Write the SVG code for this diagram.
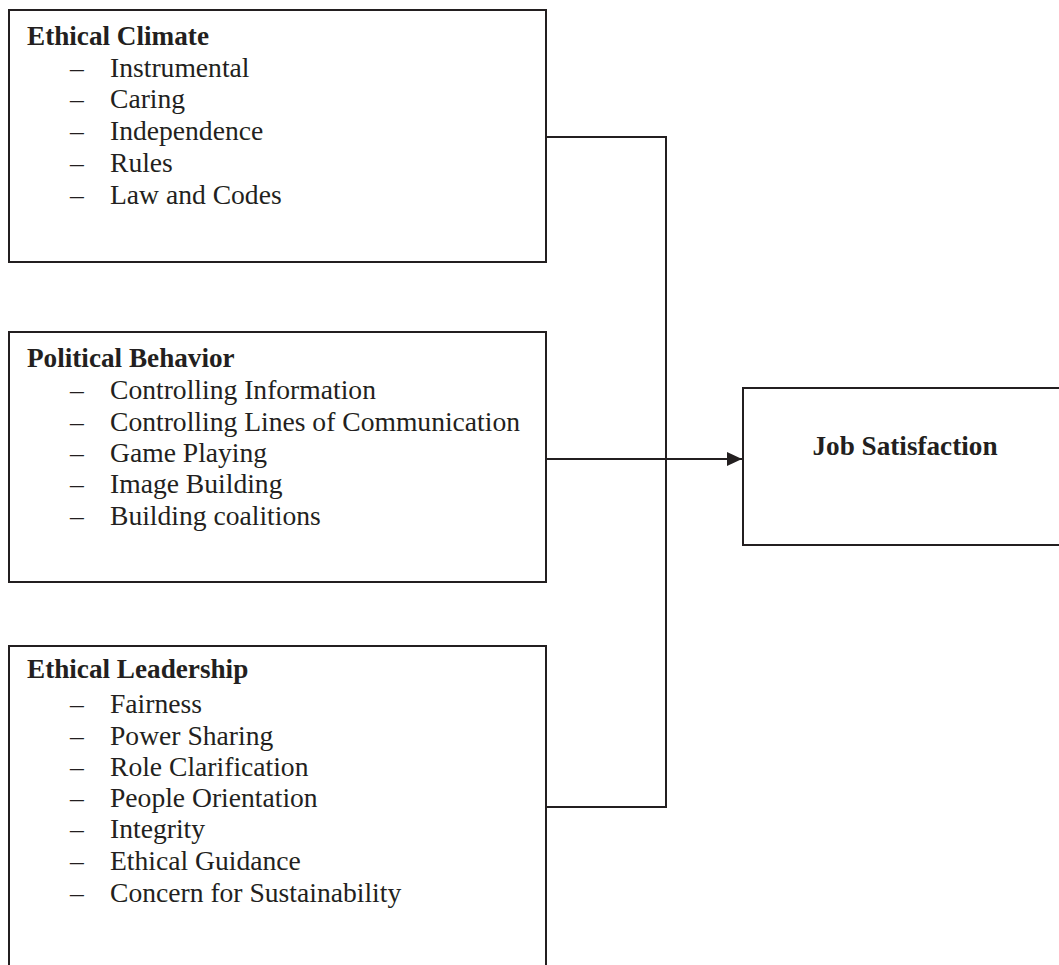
<svg xmlns="http://www.w3.org/2000/svg" width="1059" height="965" viewBox="0 0 1059 965">
<defs>
<style>
.box{fill:#fff;stroke:#231f20;stroke-width:2}
.ln{fill:none;stroke:#231f20;stroke-width:2}
text{font-family:"Liberation Serif","Times New Roman",serif;font-size:27.6px;fill:#231f20}
.t{font-weight:bold;font-size:27.2px}
.d{font-weight:bold}
</style>
<marker id="ah" markerWidth="15" markerHeight="14" refX="15" refY="7" orient="auto" markerUnits="userSpaceOnUse">
<path d="M0,0 L15,7 L0,14 Z" fill="#231f20"/>
</marker>
</defs>
<rect width="1059" height="965" fill="#fff"/>
<g id="connectors">
<path class="ln" d="M546,137 H666 V807 H546"/>
<path class="ln" d="M546,459 H742" marker-end="url(#ah)"/>
</g>
<g id="ethical-climate">
<rect class="box" x="9" y="10" width="537" height="252"/>
<text class="t" x="27" y="45">Ethical Climate</text>
<text x="70" y="76.7">–</text><text x="110" y="76.7">Instrumental</text>
<text x="70" y="108.3">–</text><text x="110" y="108.3">Caring</text>
<text x="70" y="140.3">–</text><text x="110" y="140.3">Independence</text>
<text x="70" y="172">–</text><text x="110" y="172">Rules</text>
<text x="70" y="204">–</text><text x="110" y="204">Law and Codes</text>
</g>
<g id="political-behavior">
<rect class="box" x="9" y="332" width="537" height="250"/>
<text class="t" x="27" y="366.7">Political Behavior</text>
<text x="70" y="399.3">–</text><text x="110" y="399.3">Controlling Information</text>
<text x="70" y="430.7">–</text><text x="110" y="430.7">Controlling Lines of Communication</text>
<text x="70" y="461.7">–</text><text x="110" y="461.7">Game Playing</text>
<text x="70" y="493.3">–</text><text x="110" y="493.3">Image Building</text>
<text x="70" y="525">–</text><text x="110" y="525">Building coalitions</text>
</g>
<g id="ethical-leadership">
<rect class="box" x="9" y="646" width="537" height="330"/>
<text class="t" x="27" y="678.3">Ethical Leadership</text>
<text x="70" y="713.3">–</text><text x="110" y="713.3">Fairness</text>
<text x="70" y="744.7">–</text><text x="110" y="744.7">Power Sharing</text>
<text x="70" y="776">–</text><text x="110" y="776">Role Clarification</text>
<text x="70" y="807">–</text><text x="110" y="807">People Orientation</text>
<text x="70" y="838.3">–</text><text x="110" y="838.3">Integrity</text>
<text x="70" y="870">–</text><text x="110" y="870">Ethical Guidance</text>
<text x="70" y="901.7">–</text><text x="110" y="901.7">Concern for Sustainability</text>
</g>
<g id="job-satisfaction">
<rect class="box" x="743" y="388" width="330" height="157"/>
<text class="t" x="905" y="455" text-anchor="middle">Job Satisfaction</text>
</g>
</svg>
